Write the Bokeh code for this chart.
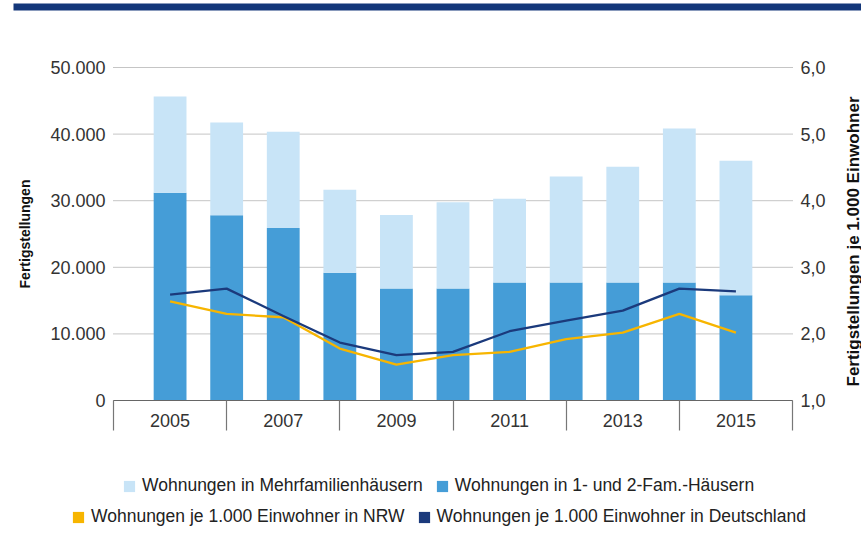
import math
from bokeh.plotting import figure
from bokeh.models import (ColumnDataSource, Range1d, LinearAxis, FixedTicker,
                          Legend, LegendItem, BoxAnnotation, Label)
from bokeh.embed import file_html
from bokeh.resources import INLINE

# ---- data ----
years = [2005, 2006, 2007, 2008, 2009, 2010, 2011, 2012, 2013, 2014, 2015]
fam_1_2 = [31200, 27800, 25900, 19200, 16800, 16800, 17700, 17700, 17700, 17700, 15800]
mfh = [14450, 13950, 14450, 12450, 11050, 12950, 12600, 15950, 17400, 23150, 20200]
nrw_per_1000 = [2.49, 2.30, 2.25, 1.78, 1.54, 1.68, 1.73, 1.92, 2.02, 2.30, 2.02]
de_per_1000 = [2.59, 2.68, 2.27, 1.87, 1.68, 1.73, 2.04, 2.20, 2.35, 2.68, 2.64]

x_label_years = [2005, 2007, 2009, 2011, 2013, 2015]
x_sep_years = [2004, 2006, 2008, 2010, 2012, 2014, 2016]
y_left_ticks = [0, 10000, 20000, 30000, 40000, 50000]
y_left_labels = ["0", "10.000", "20.000", "30.000", "40.000", "50.000"]
y_right_ticks = [1, 2, 3, 4, 5, 6]
y_right_labels = ["1,0", "2,0", "3,0", "4,0", "5,0", "6,0"]

series_labels = ["Wohnungen in Mehrfamilienhäusern",
                 "Wohnungen in 1- und 2-Fam.-Häusern",
                 "Wohnungen je 1.000 Einwohner in NRW",
                 "Wohnungen je 1.000 Einwohner in Deutschland"]
left_title = "Fertigstellungen"
right_title = "Fertigstellungen je 1.000 Einwohner"

# ---- style / layout ----
FONT = "Liberation Sans"
LIGHT = "#C8E4F7"
MID = "#459DD7"
ORANGE = "#F7B500"
NAVY = "#1B3A7C"
BAND = "#14377A"

W, H = 861, 551
PL, PR, PT, PB = 113, 792, 67, 400   # pixel box of the chart area

x_lo, x_hi = x_sep_years[0], x_sep_years[-1]
y_lo, y_hi = y_left_ticks[0], y_left_ticks[-1]
r_lo, r_hi = y_right_ticks[0], y_right_ticks[-1]
xs = (x_hi - x_lo) / (PR - PL)
ys = (y_hi - y_lo) / (PB - PT)
rs = (r_hi - r_lo) / (PB - PT)

p = figure(width=W, height=H,
           x_range=Range1d(x_lo - PL * xs, x_hi + (W - PR) * xs),
           y_range=Range1d(y_lo - (H - PB) * ys, y_hi + PT * ys),
           output_backend="svg", toolbar_location=None,
           min_border=0, min_border_left=0, min_border_right=0,
           min_border_top=0, min_border_bottom=0)
p.outline_line_color = None
p.extra_y_ranges = {"r": Range1d(r_lo - (H - PB) * rs, r_hi + PT * rs)}
p.xgrid.visible = False
p.ygrid.visible = False

src = ColumnDataSource(dict(year=years, fam=fam_1_2, mfh=mfh,
                            nrw=nrw_per_1000, de=de_per_1000))

# dotted horizontal grid lines over the chart area only
p.segment(x0=x_lo, x1=x_hi, y0=y_left_ticks, y1=y_left_ticks,
          line_color="#8a8a8a", line_width=1, line_dash="1 1")

# x axis (fixed at y = 0)
xa = p.xaxis[0]
xa.fixed_location = 0
xa.bounds = (x_lo, x_hi)
xa.ticker = FixedTicker(ticks=x_label_years, minor_ticks=x_sep_years)
xa.axis_line_color = "#666666"
xa.axis_line_width = 1.2
xa.major_tick_out = 0
xa.major_tick_in = 0
xa.minor_tick_out = 30
xa.minor_tick_in = 0
xa.minor_tick_line_color = "#777777"
xa.minor_tick_line_width = 1.2
xa.major_label_standoff = -17
xa.major_label_text_font = FONT
xa.major_label_text_font_size = "18px"
xa.major_label_text_color = "#333333"

# left axis (fixed at the first separator year)
ya = p.yaxis[0]
ya.fixed_location = x_lo
ya.bounds = (y_lo, y_hi)
ya.ticker = FixedTicker(ticks=y_left_ticks)
ya.major_label_overrides = {t: l for t, l in zip(y_left_ticks, y_left_labels)}
ya.axis_line_color = None
ya.major_tick_line_color = None
ya.minor_tick_line_color = None
ya.major_tick_out = 0
ya.major_tick_in = 0
ya.major_label_standoff = 8
ya.major_label_text_font = FONT
ya.major_label_text_font_size = "18px"
ya.major_label_text_color = "#333333"
ya.axis_label = left_title
ya.axis_label_text_font = FONT
ya.axis_label_text_font_style = "bold"
ya.axis_label_text_font_size = "14px"
ya.axis_label_text_color = "#111111"
ya.axis_label_standoff = 14

# right axis (fixed at the last separator year)
ra = LinearAxis(y_range_name="r", ticker=FixedTicker(ticks=y_right_ticks))
ra.fixed_location = x_hi
ra.bounds = (r_lo, r_hi)
ra.major_label_overrides = {t: l for t, l in zip(y_right_ticks, y_right_labels)}
ra.axis_line_color = None
ra.major_tick_line_color = None
ra.minor_tick_line_color = None
ra.major_tick_out = 0
ra.major_tick_in = 0
ra.major_label_standoff = 8
ra.major_label_text_font = FONT
ra.major_label_text_font_size = "18px"
ra.major_label_text_color = "#333333"
p.add_layout(ra, "right")

# right axis title, reading bottom to top, at the right edge
rt = Label(x=853, y=241, x_units="canvas", y_units="canvas", text=right_title,
           angle=90, angle_units="deg", text_align="center",
           text_baseline="alphabetic", text_font=FONT,
           text_font_style="bold", text_font_size="17px",
           text_color="#111111")
p.add_layout(rt)

# bars
bars = p.vbar_stack(["fam", "mfh"], x="year", width=0.58, source=src,
                    fill_color=[MID, LIGHT], line_color=None)

# lines
l_nrw = p.line("year", "nrw", source=src, y_range_name="r",
               line_color=ORANGE, line_width=2.3)
l_de = p.line("year", "de", source=src, y_range_name="r",
              line_color=NAVY, line_width=2.3)

# hidden square swatches (same data) for the line legend entries
sw_nrw = p.vbar(x="year", top="nrw", source=src, y_range_name="r", width=0.5,
                fill_color=ORANGE, line_color=None, visible=False)
sw_de = p.vbar(x="year", top="de", source=src, y_range_name="r", width=0.5,
               fill_color=NAVY, line_color=None, visible=False)


def make_legend(items, loc):
    lg = Legend(items=items, location=loc, orientation="horizontal",
                padding=0, margin=0, spacing=12, label_standoff=6,
                glyph_width=14, glyph_height=14, label_height=18,
                label_text_font=FONT, label_text_font_size="17.5px",
                label_text_color="#222222",
                border_line_color=None, background_fill_alpha=0)
    if "inactive_fill_alpha" in lg.properties():
        lg.inactive_fill_alpha = 0
    return lg


leg1 = make_legend([LegendItem(label=series_labels[0], renderers=[bars[1]]),
                    LegendItem(label=series_labels[1], renderers=[bars[0]])],
                   (122, 55))
leg2 = make_legend([LegendItem(label=series_labels[2], renderers=[sw_nrw]),
                    LegendItem(label=series_labels[3], renderers=[sw_de])],
                   (71, 24))
p.add_layout(leg1, "center")
p.add_layout(leg2, "center")

# header band
band = BoxAnnotation(left=13, right=W, top=3, bottom=10,
                     left_units="canvas", right_units="canvas",
                     top_units="canvas", bottom_units="canvas",
                     fill_color=BAND, fill_alpha=1, line_color=None)
p.add_layout(band)

open("out.html", "w").write(file_html(p, INLINE))
